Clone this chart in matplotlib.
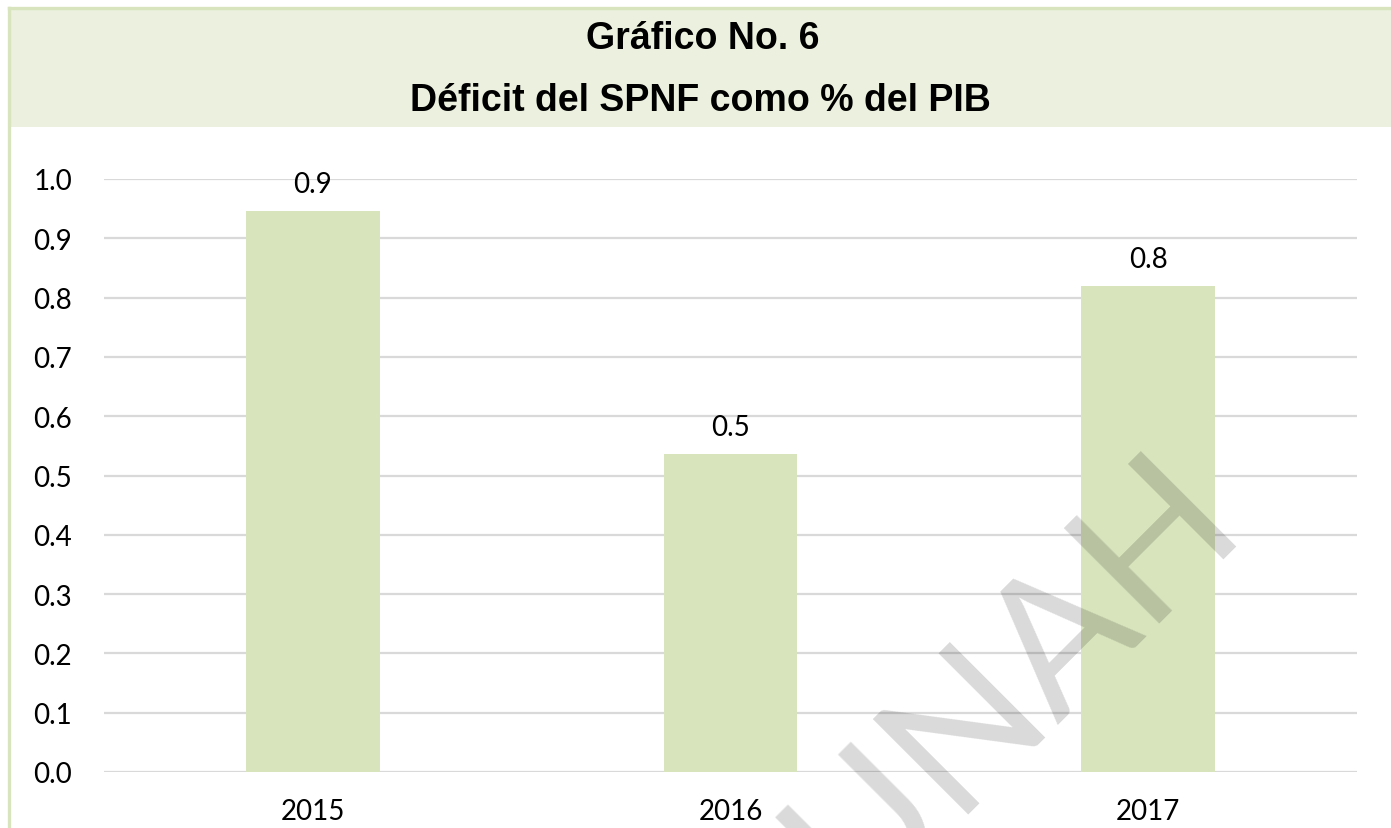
import matplotlib
matplotlib.use("Agg")
import matplotlib.pyplot as plt
from matplotlib.patches import Rectangle
from matplotlib.lines import Line2D

# datos del grafico
anios = ["2015", "2016", "2017"]
deficit = [0.946, 0.536, 0.82]
yticks = [0.0, 0.1, 0.2, 0.3, 0.4, 0.5, 0.6, 0.7, 0.8, 0.9, 1.0]

W, H = 1391, 829
fig = plt.figure(figsize=(W / 100, H / 100), dpi=100)

# banda del titulo y borde
fig.patches.append(Rectangle((8 / W, 1 - 128 / H), 1 - 8 / W, 120 / H,
                             transform=fig.transFigure, facecolor="#EBF1DE",
                             edgecolor="none", zorder=0))
fig.lines.append(Line2D([8.5 / W, 1], [1 - 8.5 / H, 1 - 8.5 / H],
                        transform=fig.transFigure, color="#D7E4BD", lw=2.4))
fig.lines.append(Line2D([8.5 / W, 8.5 / W], [0, 1 - 8.5 / H],
                        transform=fig.transFigure, color="#D7E4BD", lw=2.4))

fig.text(703 / W, 1 - 39 / H, "Gráfico No. 6", ha="center", va="center",
         fontsize=27, fontweight="bold", family="Liberation Sans")
fig.text(700 / W, 1 - 101 / H, "Déficit del SPNF como % del PIB", ha="center", va="center",
         fontsize=27, fontweight="bold", family="Liberation Sans")

ax = fig.add_axes([104 / W, 56 / H, (1357 - 104) / W, (773 - 180) / H])
x = range(len(anios))
bars = ax.bar(x, deficit, width=0.32, color="#D8E4BC", zorder=2)
ax.bar_label(bars, labels=["%.1f" % v for v in deficit], padding=10,
             fontsize=20, family="Lato")

ax.set_xlim(-0.5, len(anios) - 0.5)
ax.set_ylim(0, 1.0)
ax.set_yticks(yticks)
ax.set_yticklabels(["%.1f" % t for t in yticks])
ax.set_xticks(list(x))
ax.set_xticklabels(anios)
ax.grid(axis="y", color="#D9D9D9", lw=1.6, zorder=0)
ax.set_axisbelow(True)
for s in ax.spines.values():
    s.set_visible(False)
ax.tick_params(axis="both", length=0, labelsize=20)
ax.tick_params(axis="y", pad=23)
ax.tick_params(axis="x", pad=19)
for lbl in ax.get_xticklabels() + ax.get_yticklabels():
    lbl.set_family("Lato")

# marca de agua
fig.text(1012 / W, 1 - 680 / H, "UNAH", rotation=45, ha="center", va="center",
         fontsize=135, family="Lato", color="black", alpha=0.15,
         rotation_mode="anchor", zorder=5)

fig.savefig("out.png", dpi=100)
